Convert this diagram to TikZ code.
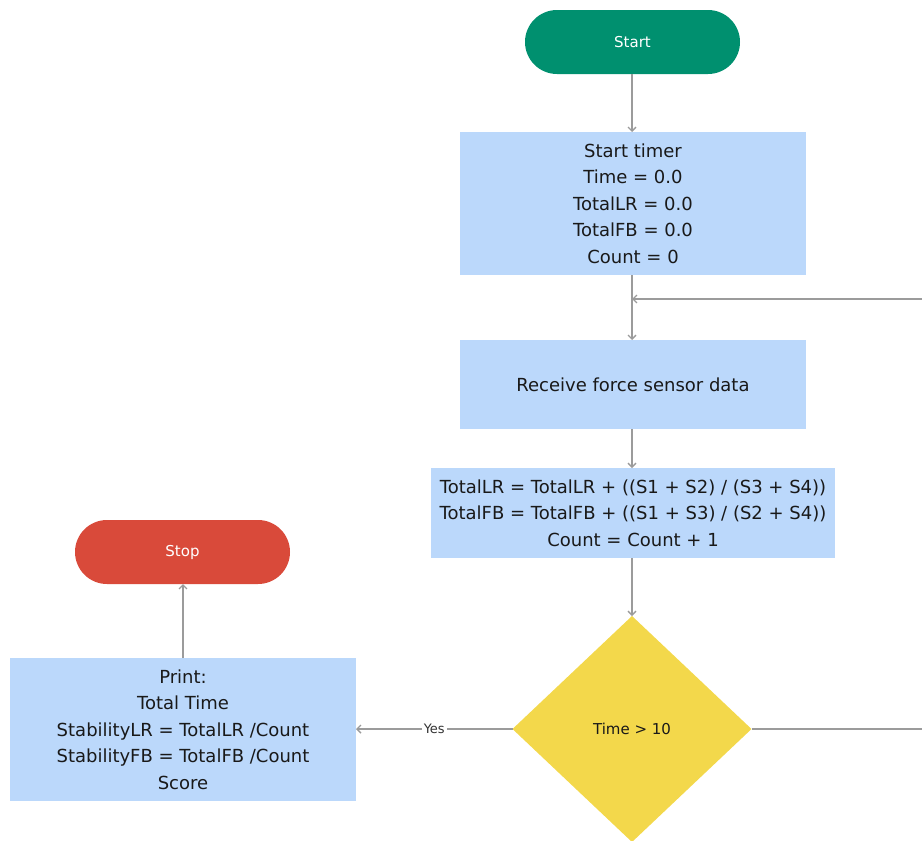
\documentclass[tikz,border=0pt]{standalone}
\usepackage{fontspec}
\setmainfont{DejaVu Sans}
\usetikzlibrary{arrows.meta,shapes.geometric}
\definecolor{startgreen}{RGB}{0,144,111}
\definecolor{stopred}{RGB}{217,74,58}
\definecolor{boxblue}{RGB}{187,216,251}
\definecolor{decyellow}{RGB}{243,216,75}
\definecolor{linegray}{RGB}{155,155,155}
\definecolor{txt}{RGB}{25,25,25}
\tikzset{
  x=1pt, y=-1pt,
  term/.style={text=white, font=\fontsize{15}{18}\selectfont, inner sep=0pt},
  procbox/.style={fill=boxblue, align=center, text=txt, font=\fontsize{18}{26.5}\selectfont, inner sep=0pt},
  conn/.style={draw=linegray, line width=1.6pt, -{Straight Barb[length=4pt,width=8pt,line width=1.4pt]}},
  plain/.style={draw=linegray, line width=1.6pt},
}
\begin{document}
\begin{tikzpicture}
\useasboundingbox (0,0) rectangle (922,841);
% terminals
\fill[startgreen, rounded corners=32pt] (525,10) rectangle (740,74);
\node[term] (start) at (632.5,42) {Start};
\coordinate (startb) at (632,74);
\fill[stopred, rounded corners=32pt] (75,520) rectangle (290,584);
\node[term] (stop) at (182.5,552) {Stop};
\coordinate (stopb) at (183,584);
% boxes
\node[procbox, minimum width=346pt, minimum height=143pt] (init) at (633,203.5)
  {Start timer\\Time = 0.0\\TotalLR = 0.0\\TotalFB = 0.0\\Count = 0};
\node[procbox, minimum width=346pt, minimum height=89pt] (recv) at (633,384.5)
  {Receive force sensor data};
\node[procbox, minimum width=404pt, minimum height=90pt] (calc) at (633,513)
  {TotalLR = TotalLR + ((S1 + S2) / (S3 + S4))\\TotalFB = TotalFB + ((S1 + S3) / (S2 + S4))\\Count = Count + 1};
\node[procbox, minimum width=346pt, minimum height=143pt] (print) at (183,729.5)
  {Print:\\Total Time\\StabilityLR = TotalLR /Count\\StabilityFB = TotalFB /Count\\Score};
% decision
\fill[decyellow] (632,616) -- (751.5,729) -- (632,842) -- (512.5,729) -- cycle;
\node[font=\fontsize{15}{18}\selectfont, text=txt] (dec) at (632,729) {Time > 10};
\coordinate (dectop) at (632,616);
\coordinate (decleft) at (512.5,729);
\coordinate (decright) at (751.5,729);
% connectors
\coordinate (loopin) at (922,299);
\coordinate (loopj) at (632,299);
\coordinate (rightend) at (922,729);
\draw[conn] (startb) -- (632,132);
\draw[conn] (632,275) -- (632,340);
\draw[conn] (loopin) -- (loopj);
\draw[conn] (632,429) -- (632,468);
\draw[conn] (632,558) -- (dectop);
\draw[conn] (decleft) -- node[fill=white, inner sep=2pt, font=\fontsize{13}{15}\selectfont, text=black!80] (yes) {Yes} (356,729);
\draw[conn] (183,658) -- (stopb);
\draw[plain] (decright) -- (rightend);
\end{tikzpicture}
\end{document}
